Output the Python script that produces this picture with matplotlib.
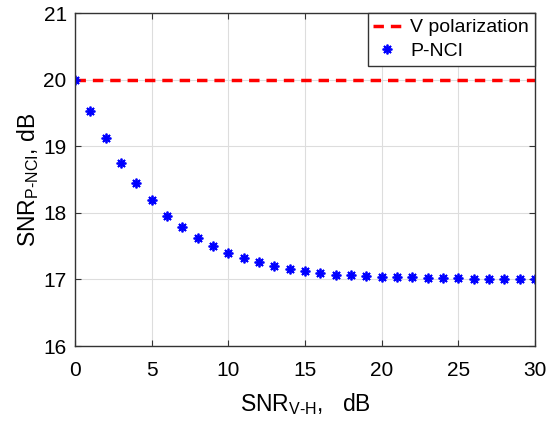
import numpy as np
import matplotlib
matplotlib.use('Agg')
import matplotlib.pyplot as plt

plt.rcParams['font.family'] = 'Liberation Sans'
plt.rcParams['mathtext.fontset'] = 'custom'
plt.rcParams['mathtext.rm'] = 'Liberation Sans'
plt.rcParams['mathtext.it'] = 'Liberation Sans'

snr_vh = np.arange(0, 31)
snr_pnci = [20.00, 19.53, 19.12, 18.75, 18.45, 18.19, 17.95, 17.78, 17.62, 17.50,
            17.40, 17.32, 17.26, 17.20, 17.16, 17.12, 17.10, 17.07, 17.06, 17.05,
            17.04, 17.03, 17.03, 17.02, 17.02, 17.02, 17.01, 17.00, 17.00, 17.00,
            17.00]
v_pol = 20.0

fig = plt.figure(figsize=(5.56, 4.23), dpi=100)
ax = fig.add_axes([75/556, 1-346/423, 460/556, 333/423])

ax.axhline(v_pol, color='#ff0000', ls=(0, (3, 2)), lw=2.5, label='V polarization')
ax.plot(snr_vh, snr_pnci, ls='none', marker=(8, 2, 0), ms=7, mew=1.3,
        color='#0000ff', label='P-NCI')

ax.set_xlim(0, 30)
ax.set_ylim(16, 21)
ax.set_xticks(range(0, 31, 5))
ax.set_yticks(range(16, 22))
ax.grid(True, color='#dddddd', lw=0.8)
ax.tick_params(direction='in', top=True, right=True, labelsize=15, length=4,
               color='#333333')
ax.tick_params(axis='x', pad=11)
ax.tick_params(axis='y', pad=6)
for s in ax.spines.values():
    s.set_color('#333333')
    s.set_linewidth(1.0)

ax.set_xlabel(r'SNR$_{\mathrm{V\text{-}H}}$,   dB', fontsize=16.5, labelpad=8)
ax.set_ylabel(r'SNR$_{\mathrm{P\text{-}NCI}}$, dB', fontsize=16.5, labelpad=2)

leg = ax.legend(loc='upper right', fontsize=14, fancybox=False, framealpha=1,
                edgecolor='#333333', borderaxespad=0, handlelength=1.4,
                handletextpad=0.5, borderpad=0.3, labelspacing=0.3)
leg.get_frame().set_linewidth(1.0)

fig.savefig('out.png', dpi=100)
